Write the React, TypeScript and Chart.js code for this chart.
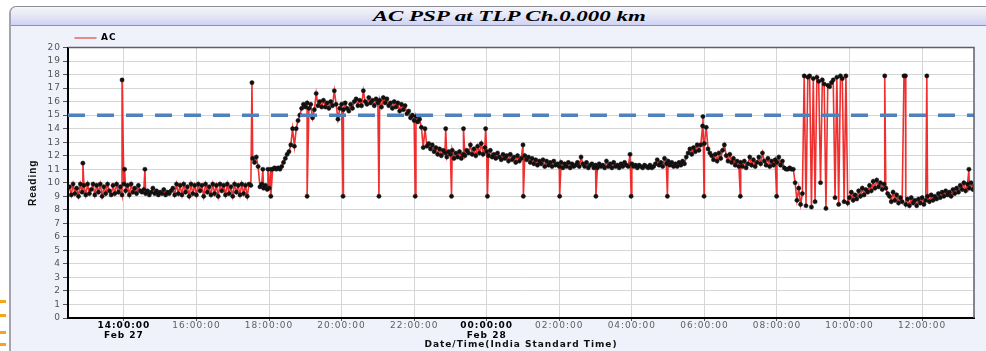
import React, { useEffect, useRef } from "react";
import { Chart, registerables } from "chart.js";

Chart.register(...registerables);

// ---- text ----
const chartTitle = "AC PSP at TLP Ch.0.000 km";
const seriesName = "AC";
const yAxisTitle = "Reading";
const xAxisTitle = "Date/Time(India Standard Time)";

// ---- data (hours counted from Feb 27 00:00, India Standard Time) ----
const sampleStepHours = 0.05;

const feb27AfternoonStart = 12.5;
const feb27Afternoon = [
  9.7, 9.1, 9.9, 9.2, 9.6, 9.0, 9.9, 9.3, 9.8, 9.1,
  9.9, 9.2, 9.5, 9.9, 9.1, 9.8, 9.3, 9.9, 9.0, 9.7,
  9.2, 9.9, 9.4, 9.1, 9.8, 9.2, 9.9, 9.3, 9.7, 9.1,
  9.9, 9.4, 9.8, 9.1, 9.9, 9.3, 9.6, 9.2, 9.8, 9.4,
  9.3, 9.5, 9.2, 9.4, 9.1, 9.3, 9.6, 9.2, 9.4, 9.1,
  9.3, 9.2, 9.5, 9.1, 9.3, 9.2, 9.4, 9.6, 9.1, 9.9,
  9.2, 9.8, 9.1, 9.9, 9.3, 9.7, 9.0, 9.9, 9.2, 9.8,
  9.1, 9.9, 9.4, 9.8, 9.0, 9.9, 9.3, 9.7, 9.1, 9.9,
  9.2, 9.8, 9.0, 9.9, 9.4, 9.8, 9.1, 9.9, 9.2, 9.7,
  9.0, 9.9, 9.3, 9.8, 9.1, 9.9, 9.2, 9.8, 9.0, 9.9,
];

const feb27EveningStart = 17.5;
const feb27Evening = [
  9.8, 11.8, 11.5, 11.9, 11.2, 9.7, 9.9, 9.6, 9.8, 9.5,
  9.6, 11.0, 11.0, 11.1, 11.0, 11.1, 11.0, 11.2, 11.5, 11.8,
  12.1, 12.3, 12.8, 14.0, 12.7, 14.0, 14.6, 15.0, 15.5, 15.8,
  15.6, 15.9, 15.5, 15.8, 14.8, 15.4, 16.6, 15.7, 16.0, 15.6,
  16.1, 15.6, 15.9, 15.5, 16.0, 15.7, 16.8, 15.8, 14.7, 15.5,
  15.8, 15.4, 15.9, 15.5, 15.3, 15.8, 15.5, 16.0, 16.2, 15.7,
  16.1, 15.7, 16.8, 16.0, 15.8, 16.3, 15.9, 16.1, 15.7, 16.2,
  15.9, 16.1, 15.6, 16.3, 15.9, 16.2, 15.7, 15.9, 15.5, 16.0,
  15.6, 15.9, 15.3, 15.8, 15.4, 15.7, 15.1, 15.3, 14.8, 15.0,
  14.6, 14.9, 14.5, 14.7, 14.1, 12.6, 14.0, 12.7, 12.9, 12.5,
];

const overnightStart = 22.5;
const overnight = [
  12.8, 12.3, 12.6, 12.1, 12.5, 12.0, 12.4, 12.2, 11.9, 12.3,
  12.1, 12.4, 11.8, 12.2, 11.9, 12.3, 11.8, 12.1, 12.0, 12.4,
  12.2, 12.8, 12.1, 12.5, 12.0, 12.7, 12.2, 12.9, 12.1, 12.6,
  12.3, 12.0, 12.4, 11.9, 12.1, 11.8, 12.2, 11.9, 11.7, 12.1,
  11.8, 12.0, 11.6, 12.1, 11.7, 11.9, 11.5, 12.0, 11.6, 11.8,
  12.8, 12.0, 11.7, 11.9, 11.5, 11.8, 11.4, 11.7, 11.3, 11.6,
  11.4, 11.7, 11.2, 11.6, 11.3, 11.5, 11.2, 11.6, 11.3, 11.4,
  11.2, 11.5, 11.1, 11.4, 11.2, 11.5, 11.1, 11.4, 11.2, 11.3,
  11.5, 11.2, 11.9, 11.4, 11.2, 11.5, 11.1, 11.3, 11.4, 11.1,
  11.3, 11.1, 11.4, 11.2, 11.3, 11.1, 11.6, 11.2, 11.4, 11.1,
  11.5, 11.2, 11.3, 11.1, 11.4, 11.2, 11.5, 11.3, 11.2, 12.1,
  11.4, 11.2, 11.3, 11.1, 11.3, 11.2, 11.1, 11.3, 11.2, 11.1,
  11.3, 11.1, 11.2, 11.4, 11.7, 11.3, 11.5, 11.2, 11.8, 11.4,
  11.6, 11.3, 11.5, 11.2, 11.4, 11.2, 11.5, 11.3, 11.6, 11.4,
  11.9, 12.2, 12.5, 12.1, 12.6, 12.3, 12.8, 12.4, 12.8, 14.2,
  12.9, 14.1, 12.5, 12.2, 12.0, 11.7, 12.1, 11.6, 12.2, 11.8,
  12.4, 12.8, 12.0, 11.6, 12.1, 11.5, 11.8, 11.3, 11.6, 11.2,
  11.5, 11.2, 11.6, 11.1, 11.4, 11.9, 11.3, 11.7, 11.2, 11.5,
  11.9, 11.4, 12.2, 11.6, 11.3, 11.8, 11.2, 11.6, 11.3, 11.7,
  11.5, 11.9, 11.3, 11.6, 11.1, 11.0, 11.0, 11.1, 11.0, 11.0,
];

const feb28MorningStart = 32.5;
const feb28Morning = [
  10.0, 8.7, 9.6, 8.4, 9.2, 17.9, 8.3, 17.8, 17.9, 8.2,
  17.7, 8.6, 17.8, 17.5, 10.0, 17.6, 17.3, 8.1, 17.2, 17.1,
  17.4, 17.6, 8.9, 17.8, 8.4, 17.9, 17.7, 8.6, 17.9, 8.5,
  8.9, 9.3, 8.7, 9.1, 8.8, 9.4, 9.0, 9.6, 9.1, 9.5,
  9.3, 9.8, 9.4, 10.1, 9.6, 10.2, 9.7, 10.0, 9.5, 9.9,
  9.6, 9.2, 9.0, 8.6, 9.3, 8.7, 9.1, 8.5, 8.9, 8.6,
  17.9, 8.4, 8.8, 8.3, 8.9, 8.5, 8.7, 8.3, 8.8, 8.5,
  8.9, 8.4, 8.7, 9.0, 8.6, 9.1, 8.7, 9.0, 8.8, 9.2,
  8.9, 9.3, 9.0, 9.4, 9.1, 9.3, 9.0, 9.5, 9.2, 9.6,
  9.3, 9.8, 9.5, 10.0, 9.4, 9.9, 9.6, 10.0, 9.5, 9.8,
];

// hourly single readings that fall to 9
const hourlyDropHours = [
  18.05, 19.05, 20.04, 21.03, 22.03, 23.03, 24.02, 25.01,
  26.01, 27.01, 27.98, 28.98, 29.99, 30.99, 31.99,
];
const hourlyDropValue = 9.0;

// isolated spike readings
const spikeHours = [
  12.87, 13.95, 14.02, 14.58, 17.53, 17.83, 17.97,
  22.87, 23.36, 23.97, 29.96, 34.97, 35.54, 36.13, 37.29,
];
const spikeValues = [
  11.45, 17.6, 11.0, 11.0, 17.4, 11.0, 11.0,
  14.0, 14.0, 14.0, 14.9, 17.9, 17.9, 17.9, 11.0,
];

const thresholdValue = 15;

const xMinHour = 12.46;
const xMaxHour = 37.43;
const xTickHours = [14, 16, 18, 20, 22, 24, 26, 28, 30, 32, 34, 36];
const dayLabels: Record<number, string> = { 14: "Feb 27", 24: "Feb 28" };

const yMin = 0;
const yMax = 20;
const yStep = 1;

// ---- build readings ----
function buildReadings() {
  const pts: { x: number; y: number }[] = [];
  const segments: [number, number[]][] = [
    [feb27AfternoonStart, feb27Afternoon],
    [feb27EveningStart, feb27Evening],
    [overnightStart, overnight],
    [feb28MorningStart, feb28Morning],
  ];
  segments.forEach(([start, vals]) => {
    vals.forEach((v, i) => {
      pts.push({ x: Math.round((start + i * sampleStepHours) * 1000) / 1000, y: v });
    });
  });
  hourlyDropHours.forEach((h) => pts.push({ x: h, y: hourlyDropValue }));
  spikeHours.forEach((h, i) => pts.push({ x: h, y: spikeValues[i] }));
  pts.sort((a, b) => a.x - b.x);
  return pts;
}

const tickLabel = (value: number) => {
  const hh = String(value % 24).padStart(2, "0");
  const t = `${hh}:00:00`;
  return dayLabels[value] ? [t, dayLabels[value]] : t;
};

const spacingPlugin = {
  id: "spacing",
  beforeLayout(chart: any) {
    chart.ctx.letterSpacing = "1px";
  },
  afterLayout(chart: any) {
    if (chart.legend) {
      chart.legend.left += 4;
      chart.legend.right += 4;
      chart.legend.top += 5;
      chart.legend.bottom += 5;
    }
  },
  beforeDraw(chart: any) {
    chart.ctx.letterSpacing = "1px";
  },
};

const framePlugin = {
  id: "frame",
  beforeDraw(chart: any) {
    const { ctx, chartArea } = chart;
    const { left, top, right, bottom } = chartArea;
    ctx.save();
    ctx.fillStyle = "#ffffff";
    ctx.fillRect(left, top, right - left, bottom - top);
    ctx.restore();
  },
  afterDraw(chart: any) {
    const { ctx, chartArea } = chart;
    const { left, top, right, bottom } = chartArea;
    ctx.save();
    ctx.strokeStyle = "#5f5f66";
    ctx.lineWidth = 1.5;
    ctx.beginPath();
    ctx.moveTo(left, top);
    ctx.lineTo(right, top);
    ctx.lineTo(right, bottom);
    ctx.stroke();
    ctx.restore();
  },
};

export default function App() {
  const canvasRef = useRef<HTMLCanvasElement | null>(null);

  useEffect(() => {
    const canvas = canvasRef.current;
    if (!canvas) return;
    const readings = buildReadings();
    const chart = new Chart(canvas, {
      type: "line",
      data: {
        datasets: [
          {
            label: "threshold",
            data: [
              { x: xMinHour, y: thresholdValue },
              { x: xMaxHour, y: thresholdValue },
            ],
            borderColor: "#4f81bd",
            borderWidth: 3.5,
            borderDash: [17, 12],
            pointRadius: 0,
            fill: false,
          },
          {
            label: seriesName,
            data: readings,
            borderColor: "rgba(238,24,24,0.9)",
            borderWidth: 1.6,
            pointRadius: 2.1,
            pointBackgroundColor: "#111",
            pointBorderColor: "#111",
            pointBorderWidth: 0.5,
            fill: false,
            tension: 0,
          },
        ],
      },
      options: {
        animation: false,
        responsive: false,
        maintainAspectRatio: false,
        parsing: false,
        normalized: true,
        layout: { padding: { left: 0, right: 12, top: 0, bottom: 0 } },
        plugins: {
          title: { display: false },
          tooltip: { enabled: false },
          legend: {
            display: true,
            position: "top",
            align: "start",
            fullSize: false,
            labels: {
              boxWidth: 22,
              boxHeight: 2,
              padding: 2.5,
              color: "#000",
              font: { family: "DejaVu Sans", size: 9, weight: "bold" },
              generateLabels: () => [
                {
                  text: seriesName,
                  fillStyle: "#e68a8a",
                  strokeStyle: "#e68a8a",
                  lineWidth: 0,
                  hidden: false,
                  datasetIndex: 1,
                  fontColor: "#000",
                },
              ],
            },
          },
        },
        scales: {
          x: {
            type: "linear",
            min: xMinHour,
            max: xMaxHour,
            afterBuildTicks: (scale: any) => {
              scale.ticks = xTickHours.map((v) => ({ value: v }));
            },
            afterFit: (scale: any) => {
              scale.height = 33;
            },
            ticks: {
              autoSkip: false,
              maxRotation: 0,
              minRotation: 0,
              padding: 0,
              callback: (value: any) => tickLabel(Number(value)),
              color: (ctx: any) => (ctx.tick && dayLabels[ctx.tick.value] ? "#000" : "#606060"),
              font: (ctx: any) => ({
                family: "DejaVu Sans",
                size: 9,
                lineHeight: 1.05,
                weight: ctx.tick && dayLabels[ctx.tick.value] ? "bold" : "normal",
              }),
            },
            grid: {
              color: "#d6d6d6",
              lineWidth: 1,
              tickLength: 3,
              tickColor: "#555",
            },
            border: { display: true, color: "#000", width: 2 },
            title: {
              display: true,
              text: xAxisTitle,
              color: "#111",
              font: { family: "DejaVu Sans", size: 9, weight: "bold" },
              padding: { top: 0, bottom: 1 },
            },
          },
          y: {
            type: "linear",
            min: yMin,
            max: yMax,
            afterFit: (scale: any) => {
              scale.width = 57;
            },
            ticks: {
              stepSize: yStep,
              autoSkip: false,
              padding: 2,
              color: "#555",
              font: { family: "DejaVu Sans", size: 9 },
            },
            grid: {
              color: "#d6d6d6",
              lineWidth: 1,
              tickLength: 5,
              tickColor: "#555",
            },
            border: { display: true, color: "#000", width: 2 },
            title: {
              display: true,
              text: yAxisTitle,
              color: "#111",
              font: { family: "Liberation Sans", size: 10, weight: "bold" },
              padding: { top: 16, bottom: 0 },
            },
          },
        },
      },
      plugins: [spacingPlugin, framePlugin],
    } as any);
    return () => chart.destroy();
  }, []);

  const orange = (top: number) => (
    <div
      key={top}
      style={{ position: "absolute", left: 0, top, width: 6, height: 3, background: "#f5a51c" }}
    />
  );

  return (
    <div
      style={{
        position: "fixed",
        left: 0,
        top: 0,
        width: 986,
        height: 351,
        background: "#ffffff",
        overflow: "hidden",
      }}
    >
      {[300, 314, 331, 343].map(orange)}
      <div
        style={{
          position: "absolute",
          left: 9,
          top: 6,
          width: 977,
          height: 345,
          borderLeft: "2px solid #a3a4ad",
          borderTop: "1px solid #8e8f99",
          borderTopLeftRadius: 7,
          background: "#eff1fb",
          boxSizing: "border-box",
        }}
      >
        <div
          style={{
            position: "absolute",
            left: 0,
            top: 0,
            right: 0,
            height: 18,
            background: "linear-gradient(#f4f4f8 0%, #e9eaf6 40%, #cfd3f4 100%)",
            borderBottom: "1px solid #8d90b2",
            borderTopLeftRadius: 6,
          }}
        />
        <div
          style={{
            position: "absolute",
            left: 507 - 9 - 200,
            top: 0,
            width: 400,
            height: 19,
            textAlign: "center",
            lineHeight: "19px",
            fontFamily: "'Liberation Serif', 'DejaVu Serif', serif",
            fontWeight: "bold",
            fontStyle: "italic",
            fontSize: 14,
            color: "#000",
            whiteSpace: "nowrap",
          }}
        >
          <span style={{ display: "inline-block", transform: "scaleX(1.64)" }}>{chartTitle}</span>
        </div>
      </div>
      <canvas
        ref={canvasRef}
        width={975}
        height={325}
        style={{ position: "absolute", left: 11, top: 26, width: 975, height: 325 }}
      />
    </div>
  );
}
